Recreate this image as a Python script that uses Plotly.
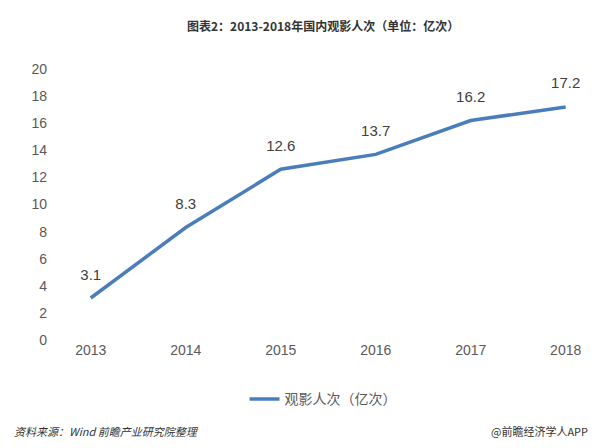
import plotly.graph_objects as go

years = [2013, 2014, 2015, 2016, 2017, 2018]
values = [3.1, 8.3, 12.6, 13.7, 16.2, 17.2]
labels = ["3.1", "8.3", "12.6", "13.7", "16.2", "17.2"]

F = "Noto Sans CJK SC"
N = "Liberation Sans"
fig = go.Figure(go.Scatter(
    x=years, y=values, mode="lines+markers+text", text=labels,
    textposition="top center", textfont=dict(size=15, color="#404040", family=N),
    marker=dict(size=22, color="rgba(0,0,0,0)"),
    line=dict(color="#4a7ebb", width=3.5), name="观影人次（亿次）"))
fig.update_layout(
    width=600, height=448, paper_bgcolor="white", plot_bgcolor="white",
    margin=dict(l=40, r=10, t=61, b=116),
    font=dict(family=N, color="#595959", size=14),
    showlegend=True,
    legend=dict(orientation="h", x=0.5, xanchor="center", y=-0.16, yanchor="top",
                font=dict(size=14, color="#595959", family=F)),
    xaxis=dict(range=[2012.55, 2018.34], tickvals=years, showgrid=False, zeroline=False,
               showline=False, ticks="", tickfont=dict(size=14)),
    yaxis=dict(range=[0, 20], dtick=2, showgrid=False, zeroline=False, showline=False,
               tickfont=dict(size=14)),
    annotations=[
        dict(text="<b>图表2：2013-2018年国内观影人次（单位：亿次）</b>", x=0.5, y=1.16,
             xref="paper", yref="paper", xanchor="center", yanchor="middle",
             showarrow=False, font=dict(size=12, color="#333", family=F)),
        dict(text="<i>资料来源：Wind 前瞻产业研究院整理</i>", x=-0.065, y=-0.335,
             xref="paper", yref="paper", xanchor="left", yanchor="middle",
             showarrow=False, font=dict(size=11, color="#333", family=F)),
        dict(text="@前瞻经济学人APP", x=0.985, y=-0.335, xref="paper", yref="paper",
             xanchor="right", yanchor="middle", showarrow=False,
             font=dict(size=11, color="#333", family=F)),
    ])
fig.write_html("out.html")
